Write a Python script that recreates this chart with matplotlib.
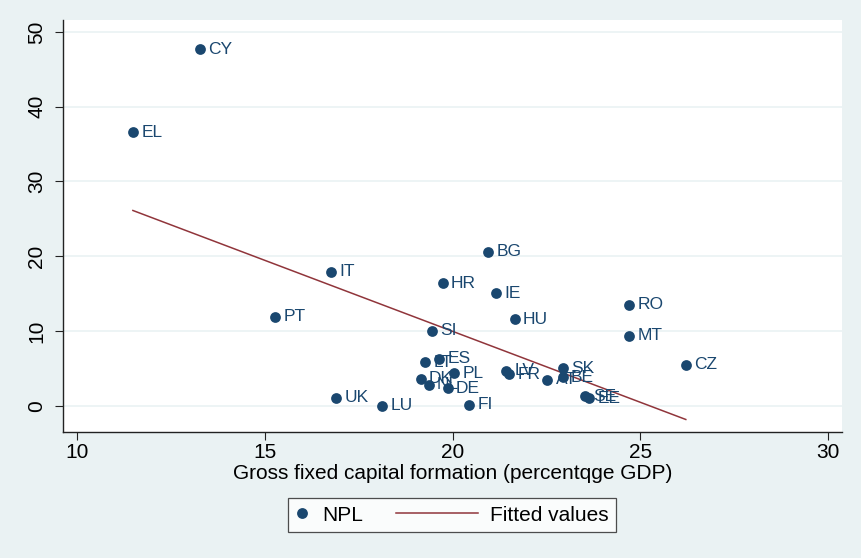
import numpy as np
import matplotlib
matplotlib.use("Agg")
from matplotlib import pyplot as plt
from matplotlib.legend_handler import HandlerLine2D
from matplotlib.lines import Line2D

# Gross fixed capital formation (% GDP) vs NPL ratio, EU countries
countries = ["CY", "EL", "BG", "IT", "HR", "IE", "PT", "HU", "SI", "RO", "MT",
             "CZ", "SK", "BE", "AT", "SE", "EE", "LT", "ES", "PL", "DK", "NL",
             "DE", "FI", "LV", "FR", "UK", "LU"]
gfcf = [13.28, 11.49, 20.95, 16.76, 19.74, 21.15, 15.27, 21.65, 19.46, 24.71, 24.71,
        26.21, 22.93, 22.93, 22.52, 23.53, 23.64, 19.27, 19.65, 20.05, 19.15, 19.36,
        19.87, 20.45, 21.42, 21.51, 16.90, 18.12]
npl = [47.7, 36.6, 20.6, 17.95, 16.4, 15.07, 11.94, 11.6, 10.07, 13.5, 9.4,
       5.48, 5.04, 3.84, 3.48, 1.25, 1.03, 5.84, 6.28, 4.37, 3.61, 2.81,
       2.36, 0.13, 4.72, 4.24, 1.07, 0.0]

navy = "#1A476F"
maroon = "#90353B"
bg = "#EAF2F3"


class WideLine(HandlerLine2D):
    # stata-style legend: narrow marker key, long line key
    def legend_artist(self, legend, orig_handle, fontsize, handlebox):
        handlebox.width = 3.9 * fontsize
        return super().legend_artist(legend, orig_handle, fontsize, handlebox)


plt.rcParams['font.family'] = ['Liberation Sans', 'DejaVu Sans']

fig = plt.figure(figsize=(8.61, 5.58), dpi=100, facecolor=bg)
ax = fig.add_axes([0.0732, 0.2258, 0.9048, 0.7384])
ax.set_facecolor("white")

x = np.array(gfcf)
y = np.array(npl)
b, a = np.polyfit(x, y, 1)
xs = np.array([x.min(), x.max()])

ax.scatter(x, y, s=60, color=navy, zorder=3, linewidths=0)
for c, xi, yi in zip(countries, x, y):
    ax.annotate(c, (xi, yi), xytext=(6, 0), textcoords="offset points",
                va="center", ha="left", fontsize=12.5, color=navy, zorder=4)
fit_line, = ax.plot(xs, a + b * xs, color=maroon, lw=1.1, zorder=2)

ax.set_xlim(9.63, 30.37)
ax.set_ylim(-3.5, 51.6)
ax.set_xticks([10, 15, 20, 25, 30])
ax.set_yticks([0, 10, 20, 30, 40, 50])
ax.grid(axis="y", color=bg, lw=1.2, zorder=0)
ax.set_axisbelow(True)
for s in ["top", "right"]:
    ax.spines[s].set_visible(False)
for s in ["left", "bottom"]:
    ax.spines[s].set_color("#222222")
    ax.spines[s].set_linewidth(1.0)
ax.tick_params(labelsize=15, length=6, color="#222222", labelcolor="black")
ax.tick_params(axis="x", pad=2)
ax.tick_params(axis="y", pad=6)
for lab in ax.get_yticklabels():
    lab.set_rotation(90)
    lab.set_va("center")
ax.set_xlabel("Gross fixed capital formation (percentqge GDP)", fontsize=15, labelpad=1)

dot = Line2D([], [], ls="none", marker="o", ms=7.8, color=navy, mew=0)
leg = fig.legend([dot, fit_line], ["NPL", "Fitted values"],
                 loc="center", bbox_to_anchor=(0.525, 0.077), ncol=2, fontsize=15,
                 frameon=True, fancybox=False, edgecolor="#222222",
                 handlelength=0.7, handletextpad=0.6, columnspacing=1.6,
                 borderpad=0.35, handler_map={fit_line: WideLine()})
leg.get_frame().set_linewidth(0.9)

plt.savefig("out.png", dpi=100, facecolor=bg)
